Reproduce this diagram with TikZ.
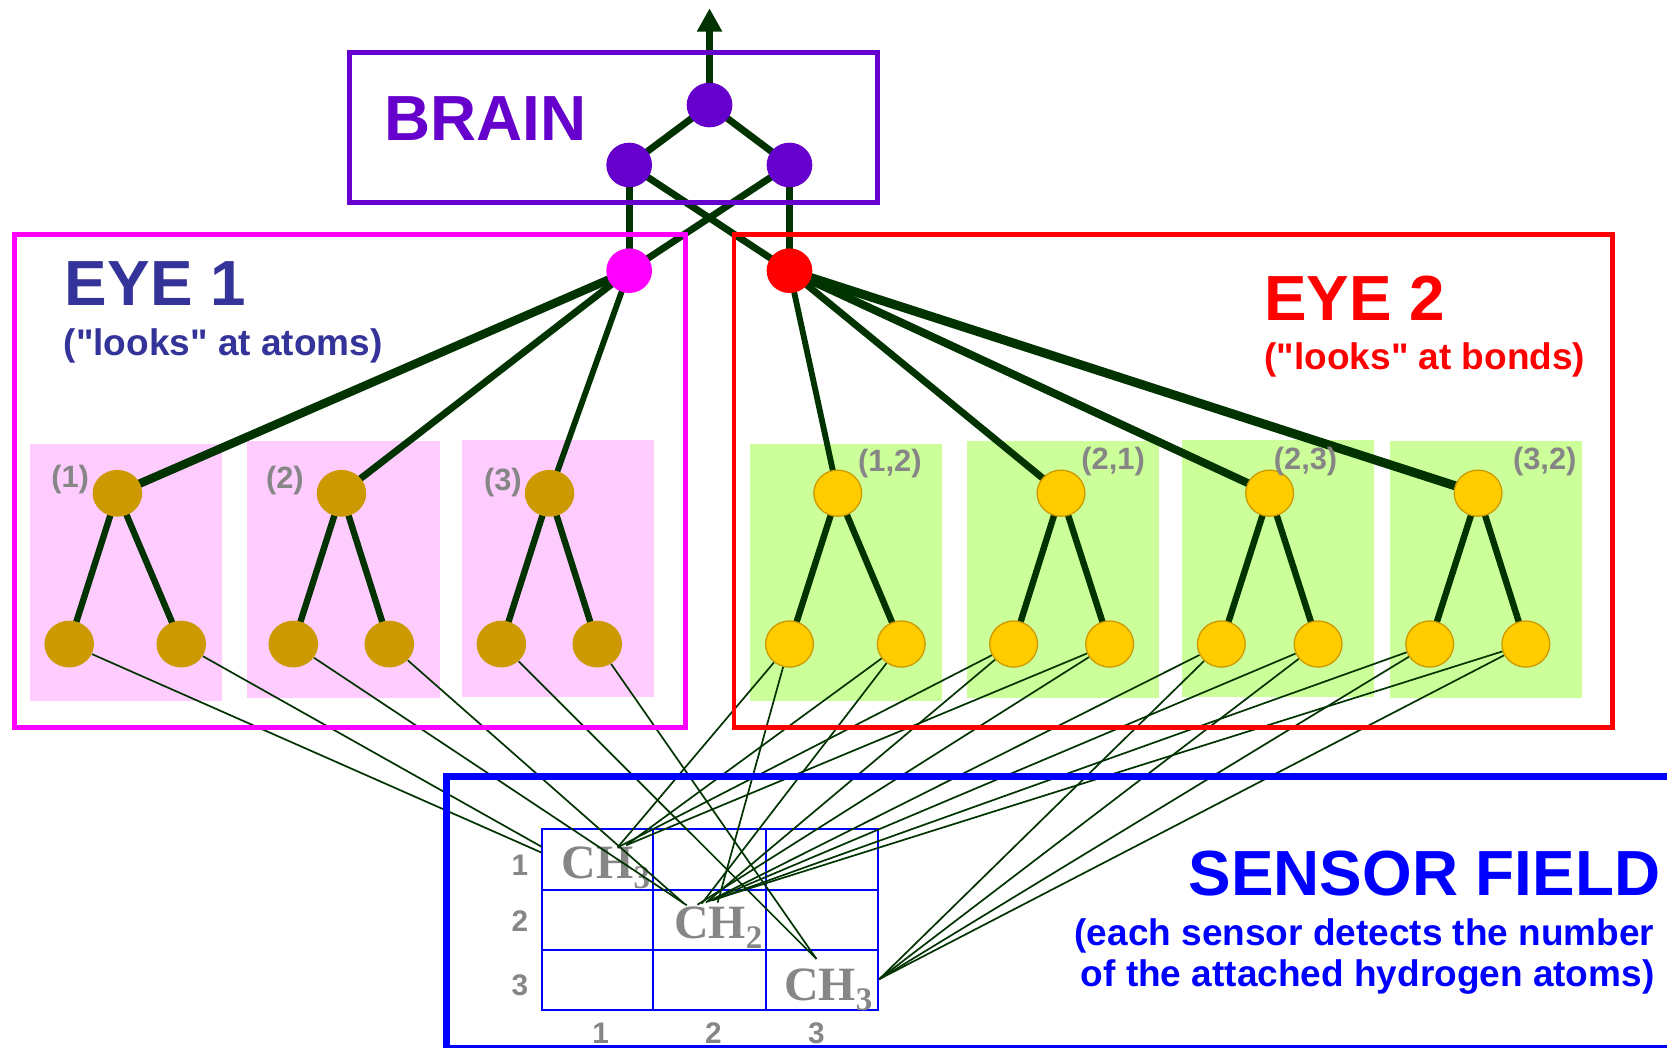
\documentclass[tikz,border=0pt]{standalone}
\usepackage{fontspec}
\setmainfont{Liberation Sans}[Ligatures=TeXOff]
\newfontfamily\chemfont{Liberation Serif}
\usetikzlibrary{shapes.geometric,arrows.meta}

\definecolor{wiregreen}{HTML}{003300}
\definecolor{brainpurple}{HTML}{6600CC}
\definecolor{eyeoneblue}{HTML}{333399}
\definecolor{eyeonemag}{HTML}{FF00FF}
\definecolor{eyetwored}{HTML}{FF0000}
\definecolor{atompink}{HTML}{FFCCFF}
\definecolor{bondgreen}{HTML}{CCFF99}
\definecolor{atomtan}{HTML}{CC9900}
\definecolor{bondyellow}{HTML}{FFCC00}
\definecolor{labelgray}{HTML}{868686}
\definecolor{sensorblue}{HTML}{0000FF}

\pgfdeclarelayer{boxes}
\pgfdeclarelayer{wires}
\pgfdeclarelayer{frames}
\pgfsetlayers{boxes,wires,frames,main}

\newcommand\chsub[1]{\raisebox{-4.75pt}{\fontsize{15.5}{16}\selectfont #1}}

\tikzset{
  brainnode/.style={ellipse, fill=brainpurple, minimum width=21.5pt, minimum height=21pt, inner sep=0pt},
  eyenode/.style={ellipse, minimum width=21.5pt, minimum height=21pt, inner sep=0pt},
  atomnode/.style={ellipse, fill=atomtan, minimum width=23.3pt, minimum height=22pt, inner sep=0pt},
  bondnode/.style={ellipse, fill=bondyellow, draw=atomtan, line width=0.6pt, minimum width=22.5pt, minimum height=21.7pt, inner sep=0pt},
  wire/.style={draw=wiregreen, line width=3.25pt},
  treewire/.style={draw=wiregreen, line width=3pt},
  thinwire/.style={draw=wiregreen, line width=0.8pt},
  frame/.style={line width=2.35pt},
  title/.style={font=\fontsize{30}{36}\selectfont\bfseries, inner sep=0pt, anchor=base west},
  subtitle/.style={font=\fontsize{17.4}{20}\selectfont\bfseries, inner sep=0pt, anchor=base west},
  numlabel/.style={font=\fontsize{14.5}{16}\selectfont\bfseries, text=labelgray, inner sep=0pt},
  gridlabel/.style={font=\fontsize{14}{16}\selectfont\bfseries, text=labelgray, inner sep=0pt},
  chem/.style={font=\chemfont\bfseries\fontsize{22.5}{24}\selectfont, text=labelgray, inner sep=0pt, anchor=base west},
  gridline/.style={draw=sensorblue, line width=1pt}
}

\begin{document}
\begin{tikzpicture}[x=0.5pt,y=-0.5pt]
\useasboundingbox (0,0) rectangle (1568,985);

% ---------- shaded cells behind the sub-trees ----------
\begin{pgfonlayer}{boxes}
  \fill[atompink] (28.1,417.6) rectangle (208.7,659);
  \fill[atompink] (232.2,414.5) rectangle (414,656.3);
  \fill[atompink] (434.6,413.9) rectangle (615,655.3);
  \fill[bondgreen] (705.6,417.6) rectangle (886.4,659);
  \fill[bondgreen] (909.6,414.5) rectangle (1090.2,656.3);
  \fill[bondgreen] (1111.8,413.9) rectangle (1292.4,655.3);
  \fill[bondgreen] (1307.3,414.8) rectangle (1488,656.3);
  % sensor grid
  \draw[gridline] (509.5,780.1) rectangle (825.6,950);
  \draw[gridline] (614.6,780.1) -- (614.6,950);
  \draw[gridline] (720.2,780.1) -- (720.2,950);
  \draw[gridline] (509.5,837.2) -- (825.6,837.2);
  \draw[gridline] (509.5,893.6) -- (825.6,893.6);
  \node[chem] (ch11) at (528,826.2) {CH\chsub{3}};
  \node[chem] (ch22) at (633.7,882.6) {CH\chsub{2}};
  \node[chem] (ch33) at (737.1,941) {CH\chsub{3}};
\end{pgfonlayer}

% ---------- brain and eye output nodes ----------
\node[brainnode] (b0) at (667.4,98.8) {};
\node[brainnode] (b1) at (591.8,155.2) {};
\node[brainnode] (b2) at (742.6,155.2) {};
\node[eyenode, fill=eyeonemag] (e1) at (591.8,254.6) {};
\node[eyenode, fill=eyetwored] (e2) at (742.6,254.6) {};
\coordinate (out) at (667.4,7.8);

% ---------- atom sub-trees (eye 1) ----------
\foreach \n/\x/\l/\r in {1/110.4/65.1/170.5, 2/321.2/275.9/366.2, 3/516.9/471.6/561.8} {
  \node[atomnode] (at\n) at (\x,464) {};
  \node[atomnode] (al\n) at (\l,605.8) {};
  \node[atomnode] (ar\n) at (\r,605.8) {};
}

% ---------- bond sub-trees (eye 2) ----------
\foreach \n/\x/\l/\r in {12/788/742.6/847.7, 21/998/953.4/1043.7, 23/1194.2/1148.8/1239.8, 32/1390.3/1344.8/1435.2} {
  \node[bondnode] (bt\n) at (\x,463.9) {};
  \node[bondnode] (bl\n) at (\l,605.8) {};
  \node[bondnode] (br\n) at (\r,605.8) {};
}

% ---------- sensor contact points ----------
\coordinate (s1edgeA) at (509.5,802);
\coordinate (s1edgeB) at (509.5,796.5);
\coordinate (s2cornerA) at (646,851.5);
\coordinate (s2cornerB) at (643,849.5);
\coordinate (s3top) at (768,902);
\coordinate (s11a) at (581,797);
\coordinate (s11b) at (589,795);
\coordinate (s22a) at (675,849);
\coordinate (s22b) at (660,850);
\coordinate (s22c) at (664,849);
\coordinate (s22d) at (656,851);
\coordinate (s22e) at (666,848);
\coordinate (s22f) at (668,847);
\coordinate (s22g) at (670,847);
\coordinate (s22h) at (672,846);
\coordinate (s33) at (827,921);

% ---------- connections ----------
\begin{pgfonlayer}{wires}
  % brain
  \draw[wire, -{Triangle[length=11pt,width=11.25pt]}] (b0.center) -- (out);
  \draw[wire] (b0.center) -- (b1.center);
  \draw[wire] (b0.center) -- (b2.center);
  \draw[wire] (b1.center) -- (e1.center);
  \draw[wire] (b2.center) -- (e2.center);
  \draw[wire] (b1.center) -- (e2.center);
  \draw[wire] (b2.center) -- (e1.center);
  % eye 1 to atom trees
  \draw[wire, line width=4pt] (e1.center) -- (at1.center);
  \draw[wire, line width=3.25pt] (e1.center) -- (at2.center);
  \draw[wire, line width=2.75pt] (e1.center) -- (at3.center);
  % eye 2 to bond trees
  \draw[wire, line width=2.75pt] (e2.center) -- (bt12.center);
  \draw[wire, line width=3.25pt] (e2.center) -- (bt21.center);
  \draw[wire, line width=3.75pt] (e2.center) -- (bt23.center);
  \draw[wire, line width=4.25pt] (e2.center) -- (bt32.center);
  % inside the sub-trees
  \foreach \n in {1,2,3} {
    \draw[treewire] (at\n.center) -- (al\n.center);
    \draw[treewire] (at\n.center) -- (ar\n.center);
  }
  \foreach \n in {12,21,23,32} {
    \draw[treewire] (bt\n.center) -- (bl\n.center);
    \draw[treewire] (bt\n.center) -- (br\n.center);
  }
  % atom leaves to sensors
  \draw[thinwire] (al1) -- (s1edgeA);
  \draw[thinwire] (ar1) -- (s1edgeB);
  \draw[thinwire] (al2) -- (s2cornerA);
  \draw[thinwire] (ar2) -- (s2cornerB);
  \draw[thinwire] (al3) -- (s3top);
  \draw[thinwire] (ar3) -- (s3top);
  % bond leaves to sensors
  \draw[thinwire] (bl12) -- (s11a);
  \draw[thinwire] (bl12) -- (s22a);
  \draw[thinwire] (br12) -- (s11b);
  \draw[thinwire] (br12) -- (s22b);
  \draw[thinwire] (bl21) -- (s11a);
  \draw[thinwire] (bl21) -- (s22c);
  \draw[thinwire] (br21) -- (s11b);
  \draw[thinwire] (br21) -- (s22d);
  \draw[thinwire] (bl23) -- (s22e);
  \draw[thinwire] (bl23) -- (s33);
  \draw[thinwire] (br23) -- (s22f);
  \draw[thinwire] (br23) -- (s33);
  \draw[thinwire] (bl32) -- (s22g);
  \draw[thinwire] (bl32) -- (s33);
  \draw[thinwire] (br32) -- (s22h);
  \draw[thinwire] (br32) -- (s33);
\end{pgfonlayer}

% ---------- frames ----------
\begin{pgfonlayer}{frames}
  \draw[frame, draw=brainpurple] (329,49.4) rectangle (825,190.5);
  \draw[frame, draw=eyeonemag] (13.7,221) rectangle (645,684.4);
  \draw[frame, draw=eyetwored] (690.4,221) rectangle (1516.8,684.4);
  \draw[draw=sensorblue, line width=3.3pt] (420,730.5) rectangle (1620,986.5);
\end{pgfonlayer}

% ---------- texts ----------
\node[title, text=brainpurple] (braintitle) at (361.4,131.7) {BRAIN};
\node[title, text=eyeoneblue] (eyeonetitle) at (60.7,287.5) {EYE 1};
\node[subtitle, text=eyeoneblue] (eyeonesub) at (59.6,334) {("looks" at atoms)};
\node[title, text=eyetwored] (eyetwotitle) at (1188.7,301) {EYE 2};
\node[subtitle, text=eyetwored] (eyetwosub) at (1189,348) {("looks" at bonds)};
\node[title, text=sensorblue, anchor=base east] (sensortitle) at (1562,842) {SENSOR FIELD};
\node[subtitle, text=sensorblue, anchor=base east] (sensorsubA) at (1556.5,889) {(each sensor detects the number};
\node[subtitle, text=sensorblue, anchor=base east] (sensorsubB) at (1556.5,928) {of the attached hydrogen atoms)};

\node[numlabel] (lab1) at (66,451) {(1)};
\node[numlabel] (lab2) at (268,452) {(2)};
\node[numlabel] (lab3) at (473,454) {(3)};
\node[numlabel] (lab12) at (837,436) {(1,2)};
\node[numlabel] (lab21) at (1047,434) {(2,1)};
\node[numlabel] (lab23) at (1228,434) {(2,3)};
\node[numlabel] (lab32) at (1453,434) {(3,2)};

\node[gridlabel] (row1) at (489,814) {1};
\node[gridlabel] (row2) at (489,866) {2};
\node[gridlabel] (row3) at (489,927) {3};
\node[gridlabel] (col1) at (565,972) {1};
\node[gridlabel] (col2) at (671,972) {2};
\node[gridlabel] (col3) at (768,972) {3};
\end{tikzpicture}
\end{document}
